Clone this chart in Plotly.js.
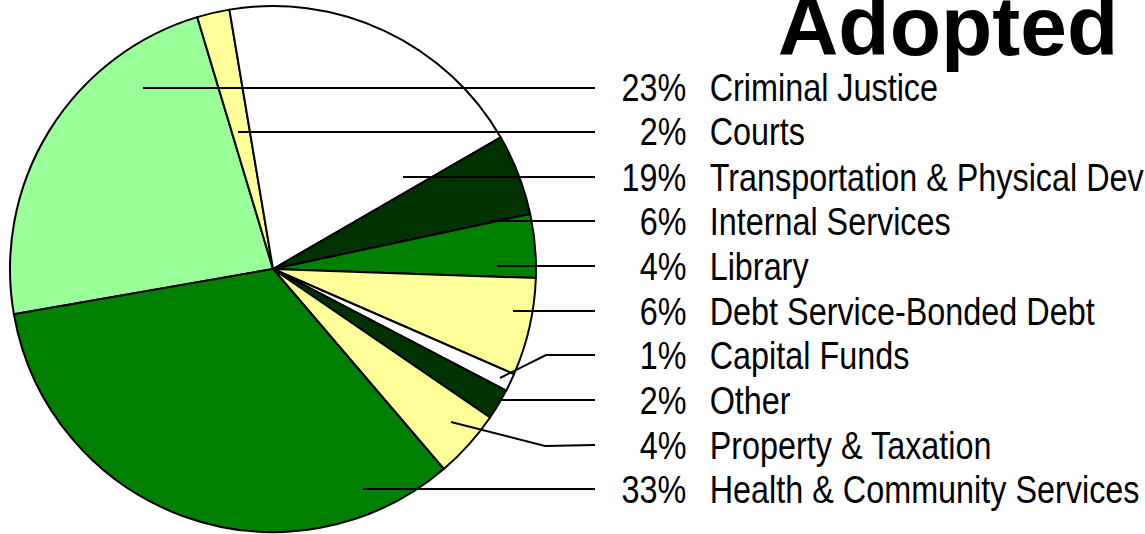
<!DOCTYPE html>
<html>
<head>
<meta charset="utf-8">
<script src="https://cdn.plot.ly/plotly-3.0.1.min.js"></script>
<style>html,body{margin:0;padding:0;background:#fff;}#chart{width:1145px;height:534px;}</style>
</head>
<body>
<div id="chart"></div>
<script>
// ---- data ----
var categories = ["Criminal Justice", "Courts", "Transportation & Physical Dev", "Internal Services", "Library",
  "Debt Service-Bonded Debt", "Capital Funds", "Other", "Property & Taxation", "Health & Community Services"];
var sliceValues = [23.1, 2.0, 19.3, 5.0, 3.9, 6.0, 1.1, 1.9, 4.2, 33.5];
var percentLabels = ["23%", "2%", "19%", "6%", "4%", "6%", "1%", "2%", "4%", "33%"];
var sliceColors = ["#99FF99", "#FFFF99", "#FFFFFF", "#003300", "#008000",
  "#FFFF99", "#FFFFFF", "#003300", "#FFFF99", "#008000"];

// ---- layout helpers (pixel -> paper) ----
var W = 1145, H = 534;
function px(x) { return x / W; }
function py(y) { return 1 - y / H; }

// label rows and leader-line geometry (layout only)
var rowY = [88, 132, 177, 221, 266, 311, 355, 400, 445, 489];
var leaderStartX = [143, 238, 403, 490, 497, 513, null, 500, null, 363];
var leaderEndX = 595;
var bentLeaders = { 6: [[500, 378], [546, 355]], 8: [[451, 422], [545, 446]] };
var pctRightX = 688, nameLeftX = 708, condense = 0.83;

var shapes = [];
var annotations = [];
var labelFont = { family: "Liberation Sans, Arial, sans-serif", size: 39, color: "#000" };
for (var i = 0; i < categories.length; i++) {
  var y = rowY[i];
  var path;
  if (bentLeaders[i]) {
    var a = bentLeaders[i][0], b = bentLeaders[i][1];
    path = "M" + px(a[0]) + "," + py(a[1]) + " L" + px(b[0]) + "," + py(b[1]) + " L" + px(leaderEndX) + "," + py(y);
  } else {
    path = "M" + px(leaderStartX[i]) + "," + py(y) + " L" + px(leaderEndX) + "," + py(y);
  }
  shapes.push({ type: "path", xref: "paper", yref: "paper", path: path, line: { color: "#000", width: 2 } });
  annotations.push({ xref: "paper", yref: "paper", x: px(pctRightX), y: py(y), xanchor: "right", yanchor: "middle",
    text: percentLabels[i], showarrow: false, font: labelFont });
  annotations.push({ xref: "paper", yref: "paper", x: px(nameLeftX), y: py(y), xanchor: "left", yanchor: "middle",
    text: categories[i], showarrow: false, font: labelFont });
}

var trace = {
  type: "pie",
  labels: categories,
  values: sliceValues,
  sort: false,
  direction: "clockwise",
  rotation: 260.1,
  textinfo: "none",
  hoverinfo: "none",
  marker: { colors: sliceColors, line: { color: "#000", width: 2 } },
  domain: { x: [px(10), px(536)], y: [py(532), py(6)] },
  showlegend: false
};

var layout = {
  width: W, height: H,
  margin: { l: 0, r: 0, t: 0, b: 0 },
  paper_bgcolor: "#fff",
  showlegend: false,
  title: { text: "<b>Adopted</b>", x: px(948), xanchor: "center", xref: "paper",
    y: 1 - 25.6 / H, yanchor: "middle", yref: "container",
    font: { family: "Liberation Sans, Arial, sans-serif", size: 84, color: "#000" } },
  shapes: shapes,
  annotations: annotations
};

Plotly.newPlot("chart", [trace], layout, { staticPlot: true, displayModeBar: false }).then(function () {
  // narrow the label lettering (reference uses a condensed face) around each label's anchor
  var groups = document.querySelectorAll("#chart g.annotation");
  groups.forEach(function (g) {
    var idx = parseInt(g.getAttribute("data-index"), 10);
    var ox = (idx % 2 === 0) ? pctRightX : nameLeftX;
    g.setAttribute("transform", "translate(" + ox + ",0) scale(" + condense + ",1) translate(" + (-ox) + ",0)");
  });
});
</script>
</body>
</html>
